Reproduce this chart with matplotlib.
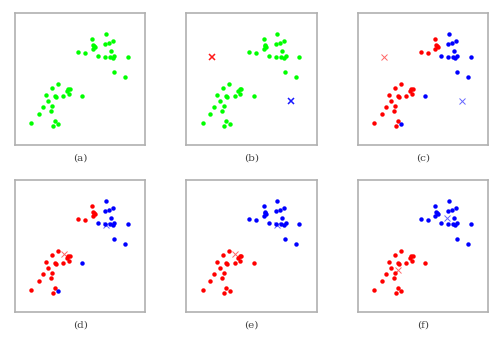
import matplotlib
matplotlib.use("Agg")
import matplotlib.pyplot as plt
import numpy as np

# point positions (fraction of the box)
xs = [0.697, 0.593, 0.753, 0.720, 0.692, 0.601, 0.613, 0.595, 0.606, 0.738,
      0.481, 0.539, 0.634, 0.692, 0.728, 0.748, 0.763, 0.868, 0.758, 0.840,
      0.328, 0.285, 0.410, 0.420, 0.399, 0.239, 0.417, 0.308, 0.316, 0.372,
      0.517, 0.257, 0.288, 0.216, 0.277, 0.186, 0.127, 0.305, 0.333, 0.293]
ys = [0.843, 0.808, 0.787, 0.772, 0.767, 0.762, 0.747, 0.732, 0.752, 0.711,
      0.704, 0.701, 0.676, 0.666, 0.666, 0.661, 0.676, 0.671, 0.554, 0.514,
      0.466, 0.430, 0.423, 0.425, 0.413, 0.382, 0.385, 0.375, 0.362, 0.370,
      0.372, 0.332, 0.299, 0.286, 0.261, 0.233, 0.170, 0.182, 0.157, 0.144]

# cluster labels: 0 = red, 1 = blue
first_assign = [1, 0, 1, 1, 1, 0, 0, 0, 0, 1,
                0, 0, 1, 1, 1, 1, 1, 1, 1, 1,
                0, 0, 0, 0, 0, 0, 0, 0, 0, 0,
                1, 0, 0, 0, 0, 0, 0, 0, 1, 0]
second_assign = [1] * 20 + [0] * 20

# centroids (red, blue) per step
cent_init = [(0.200, 0.668), (0.800, 0.334)]
cent_step1 = [(0.375, 0.444), (0.697, 0.664)]
cent_step2 = [(0.312, 0.323), (0.685, 0.715)]

panel_labels = ["(a)", "(b)", "(c)", "(d)", "(e)", "(f)"]

xs = np.array(xs)
ys = np.array(ys)
colors = np.array(["#ff0000", "#0000ff"])

fig = plt.figure(figsize=(4.99, 3.51), dpi=100)
lefts = [0.0295, 0.3727, 0.7168]
bottoms = [0.587, 0.111]
w, h = 0.262, 0.375

axes = []
for r in range(2):
    for c in range(3):
        ax = fig.add_axes([lefts[c], bottoms[r], w, h])
        ax.set_xlim(0, 1)
        ax.set_ylim(0, 1)
        ax.set_xticks([])
        ax.set_yticks([])
        for s in ax.spines.values():
            s.set_color("#b0b0b0")
            s.set_linewidth(1.2)
        axes.append(ax)

def draw_points(ax, assign=None):
    if assign is None:
        ax.plot(xs, ys, "o", color="#00ff00", ms=3.2, mew=0)
    else:
        a = np.array(assign)
        for k in range(2):
            m = a == k
            ax.plot(xs[m], ys[m], "o", color=colors[k], ms=3.2, mew=0)

def draw_centroids(ax, cents, bold=False):
    for k, (cx, cy) in enumerate(cents):
        ax.plot(cx, cy, "x", color=colors[k], ms=5, mew=1.1 if bold else 0.7,
                alpha=0.9 if bold else 0.6)

draw_points(axes[0])
draw_points(axes[1])
draw_centroids(axes[1], cent_init, bold=True)
draw_points(axes[2], first_assign)
draw_centroids(axes[2], cent_init)
draw_points(axes[3], first_assign)
draw_centroids(axes[3], cent_step1)
draw_points(axes[4], second_assign)
draw_centroids(axes[4], cent_step1)
draw_points(axes[5], second_assign)
draw_centroids(axes[5], cent_step2)

for ax, lab in zip(axes, panel_labels):
    ax.text(0.5, -0.1, lab, transform=ax.transAxes, ha="center", va="center",
            fontsize=7.5, family="DejaVu Serif", color="#444444")

fig.savefig("out.png", dpi=100)
